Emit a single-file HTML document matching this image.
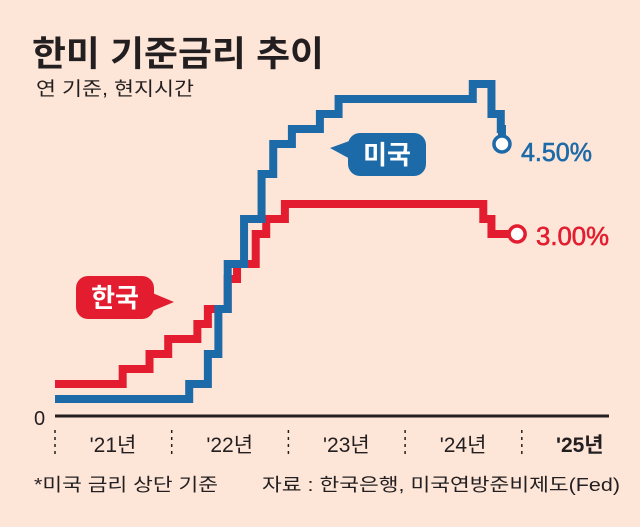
<!DOCTYPE html>
<html><head><meta charset="utf-8"><style>
html,body{margin:0;padding:0;background:#fde5d8;}
svg{display:block;font-family:"Liberation Sans","Noto Sans CJK KR",sans-serif;}
</style></head><body>
<svg width="640" height="527" viewBox="0 0 640 527">
<rect width="640" height="527" fill="#fde5d8"/>
<text x="32" y="66" font-size="35" font-weight="bold" fill="#231f20" textLength="292" lengthAdjust="spacingAndGlyphs">한미 기준금리 추이</text>
<text x="36" y="95" font-size="19" fill="#231f20" textLength="158" lengthAdjust="spacingAndGlyphs">연 기준, 현지시간</text>
<g id="plot"></g>
<line x1="55" y1="416" x2="609" y2="416" stroke="#231f20" stroke-width="3"/>
<text x="34" y="425" font-size="20" fill="#231f20">0</text>
<g id="xaxis"></g>
<g>
<path d="M330,148 L352,140 L352,160 Z" fill="#1d6aa8"/>
<rect x="348" y="133" width="78" height="43" rx="12" fill="#1d6aa8"/>
<text x="387" y="164" font-size="26" font-weight="bold" fill="#fff" text-anchor="middle">미국</text>
</g>
<g>
<path d="M174,302 L150,292 L150,312 Z" fill="#e31d2f"/>
<rect x="76" y="276" width="78" height="43" rx="12" fill="#e31d2f"/>
<text x="115" y="307" font-size="26" font-weight="bold" fill="#fff" text-anchor="middle">한국</text>
</g>
<text x="521" y="161" font-size="26" fill="#1d6aa8" stroke="#1d6aa8" stroke-width="0.6" textLength="71" lengthAdjust="spacingAndGlyphs">4.50%</text>
<text x="536" y="245" font-size="26" fill="#e31d2f" stroke="#e31d2f" stroke-width="0.6" textLength="73" lengthAdjust="spacingAndGlyphs">3.00%</text>
<text x="34" y="491" font-size="18" fill="#231f20" textLength="184" lengthAdjust="spacingAndGlyphs">*미국 금리 상단 기준</text>
<text x="262" y="491" font-size="18" fill="#231f20" textLength="358" lengthAdjust="spacingAndGlyphs">자료 : 한국은행, 미국연방준비제도(Fed)</text>
</svg>
<script>
const usDates=[2021.0,2022.15,2022.31,2022.40,2022.48,2022.62,2022.77,2022.87,2023.03,2023.27,2023.43,2024.58,2024.74,2024.82];
const usRates=[0.25,0.5,1.0,1.75,2.5,3.25,4.0,4.5,4.75,5.0,5.25,5.5,5.0,4.75];
const usFinalRate=4.5;
const usEnd=2024.83;
const krDates=[2021.0,2021.58,2021.81,2021.97,2022.22,2022.31,2022.48,2022.56,2022.72,2022.81,2022.97,2024.67,2024.74];
const krRates=[0.5,0.75,1.0,1.25,1.5,1.75,2.25,2.5,3.0,3.25,3.5,3.25,3.0];
const krFinalRate=3.0;
const krEnd=2024.96;
const yearTicks=[2021,2022,2023,2024,2025];
const yearLabels=["'21년","'22년","'23년","'24년","'25년"];
const xs=d=>55+(d-2021)*116.7;
const ys=v=>414-v*60;
const NS="http://www.w3.org/2000/svg";
const plot=document.getElementById('plot');
function series(dates,rates,end,finalRate,color,name){
  let d='';
  for(let i=0;i<dates.length;i++){
    const x=xs(dates[i]),y=ys(rates[i]);
    if(i===0)d+='M'+x+','+y+' ';
    else d+='L'+x+','+ys(rates[i-1])+' L'+x+','+y+' ';
  }
  const ex=xs(end);
  d+='L'+ex+','+ys(rates[rates.length-1])+' L'+ex+','+ys(finalRate);
  const p=document.createElementNS(NS,'path');
  p.setAttribute('d',d);p.setAttribute('fill','none');p.setAttribute('stroke',color);
  p.setAttribute('stroke-width','8');
  
  
  plot.appendChild(p);
  const c=document.createElementNS(NS,'circle');
  c.setAttribute('cx',ex);c.setAttribute('cy',ys(finalRate));c.setAttribute('r','8');
  c.setAttribute('fill','#fff');c.setAttribute('stroke',color);c.setAttribute('stroke-width','3.5');
  
  
  plot.appendChild(c);
}
series(krDates,krRates,krEnd,krFinalRate,'#e31d2f','korea');
series(usDates,usRates,usEnd,usFinalRate,'#1d6aa8','us');
const xa=document.getElementById('xaxis');
yearTicks.forEach((yr,i)=>{
  const x=xs(yr);
  const l=document.createElementNS(NS,'line');
  l.setAttribute('x1',x);l.setAttribute('x2',x);l.setAttribute('y1','430');l.setAttribute('y2','457');
  l.setAttribute('stroke','#231f20');l.setAttribute('stroke-width','1.5');l.setAttribute('stroke-dasharray','3,4');
  
  
  xa.appendChild(l);
  const t=document.createElementNS(NS,'text');
  t.setAttribute('x',x+58);t.setAttribute('y','452');t.setAttribute('font-size','21');
  t.setAttribute('text-anchor','middle');t.setAttribute('fill','#231f20');
  if(i===yearLabels.length-1)t.setAttribute('font-weight','bold');
  t.textContent=yearLabels[i];
  
  
  xa.appendChild(t);
});
</script>
</body></html>
